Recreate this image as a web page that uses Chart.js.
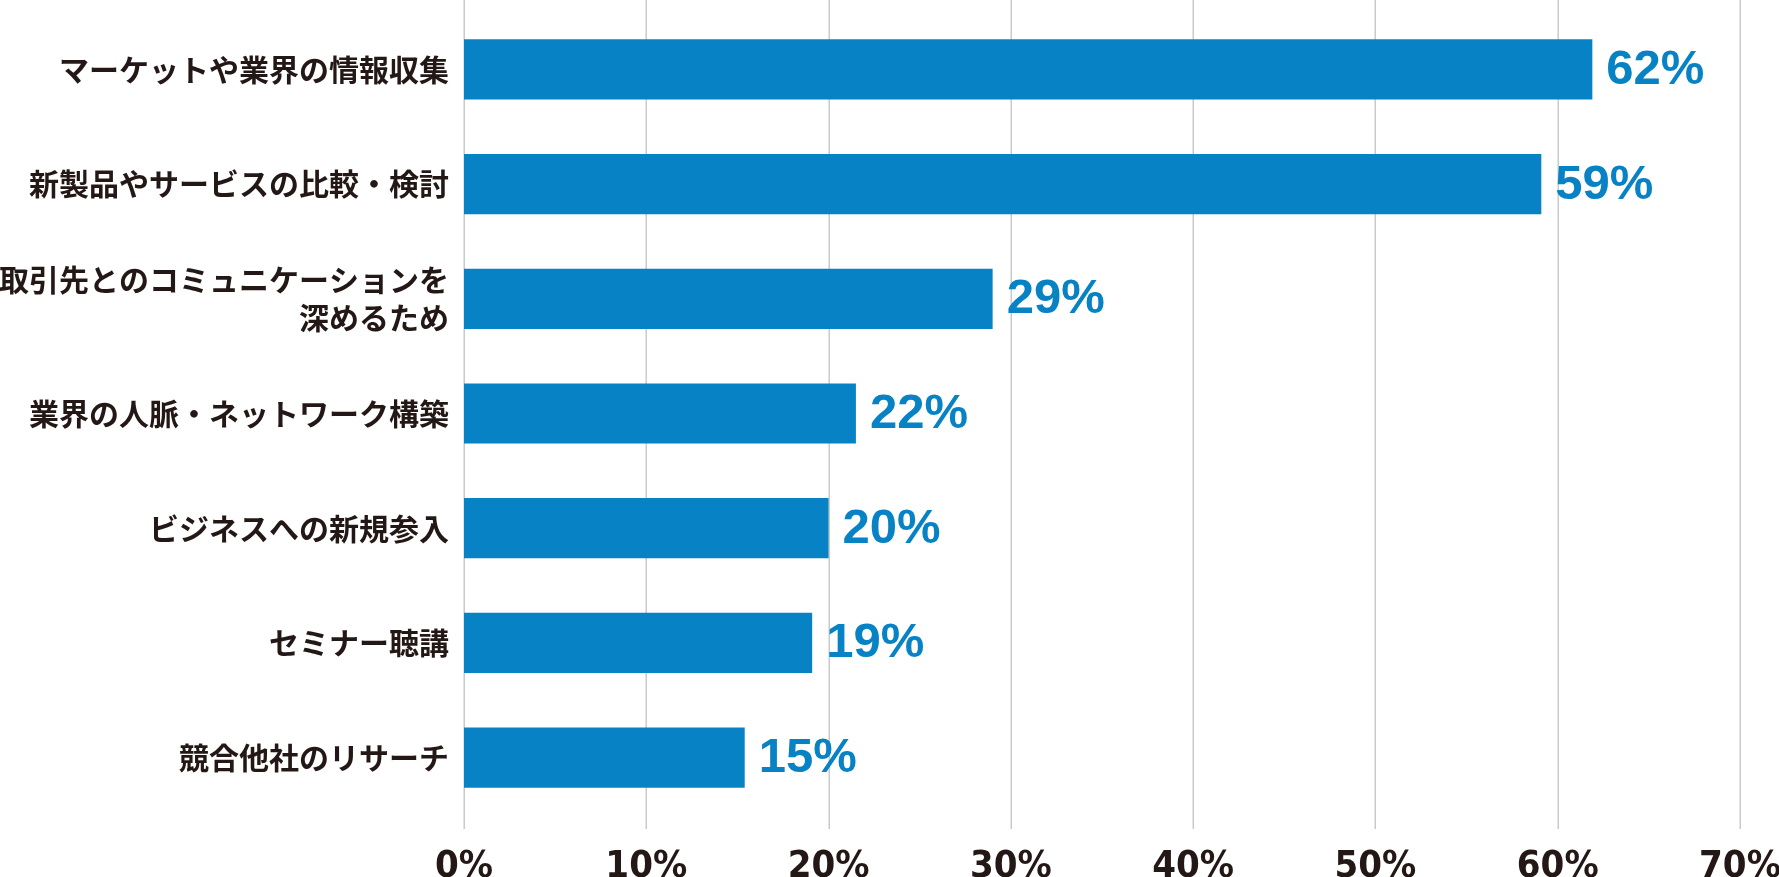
<!DOCTYPE html>
<html>
<head>
<meta charset="utf-8">
<script src="https://cdn.jsdelivr.net/npm/chart.js@4.4.0/dist/chart.umd.min.js"></script>
<style>
  html, body { margin: 0; padding: 0; background: #ffffff; }
  #wrap { width: 1779px; height: 877px; position: relative; }
</style>
</head>
<body>
<div id="wrap"><canvas id="c" width="1779" height="877"></canvas></div>
<script>
const categories = [
  'マーケットや業界の情報収集',
  '新製品やサービスの比較・検討',
  ['取引先とのコミュニケーションを', '深めるため'],
  '業界の人脈・ネットワーク構築',
  'ビジネスへの新規参入',
  'セミナー聴講',
  '競合他社のリサーチ'
];
const values = [61.9, 59.1, 29.0, 21.5, 20.0, 19.1, 15.4];
const printedPercent = [62, 59, 29, 22, 20, 19, 15];
const xTicks = [0, 10, 20, 30, 40, 50, 60, 70];

const BLUE = '#0783c5';
const DARK = '#231815';
const GRID = '#c9caca';

const gridPlugin = {
  id: 'fullGrid',
  beforeDatasetsDraw(chart) {
    const ctx = chart.ctx, xs = chart.scales.x, area = chart.chartArea;
    ctx.save();
    ctx.strokeStyle = GRID;
    ctx.lineWidth = 1.5;
    xTicks.forEach(v => {
      const px = Math.round(xs.getPixelForValue(v)) + 0.25;
      ctx.beginPath();
      ctx.moveTo(px, 0);
      ctx.lineTo(px, area.bottom + 14);
      ctx.stroke();
    });
    ctx.restore();
  }
};

const labelPlugin = {
  id: 'valueLabels',
  afterDatasetsDraw(chart) {
    const ctx = chart.ctx;
    const meta = chart.getDatasetMeta(0);
    ctx.save();
    ctx.fillStyle = BLUE;
    ctx.font = 'bold 49px "Liberation Sans", Arial, sans-serif';
    ctx.textAlign = 'left';
    ctx.textBaseline = 'middle';
    meta.data.forEach((bar, i) => {
      ctx.fillText(printedPercent[i] + '%', bar.x + 14, bar.y + 1);
    });
    ctx.restore();
  }
};

new Chart(document.getElementById('c'), {
  type: 'bar',
  data: {
    labels: categories,
    datasets: [{
      data: values,
      backgroundColor: BLUE,
      borderWidth: 0,
      barPercentage: 0.525,
      categoryPercentage: 1.0
    }]
  },
  options: {
    indexAxis: 'y',
    responsive: false,
    animation: false,
    devicePixelRatio: 1,
    layout: { padding: { top: 12, right: 39, left: 0, bottom: 0 } },
    plugins: { legend: { display: false }, tooltip: { enabled: false } },
    scales: {
      x: {
        type: 'linear',
        min: 0,
        max: 70,
        afterBuildTicks(scale) { scale.ticks = xTicks.map(v => ({ value: v })); },
        afterFit(scale) {
          scale.height = 62;
          scale.paddingLeft = 0; scale.paddingRight = 0;
          scale.paddingTop = 0; scale.paddingBottom = 0;
        },
        grid: { display: false },
        border: { display: false },
        ticks: {
          color: DARK,
          padding: 25,
          maxRotation: 0,
          autoSkip: false,
          font: { family: '"Liberation Sans Narrow", "DejaVu Sans Condensed", sans-serif', size: 38, weight: 'bold', lineHeight: 1 },
          callback: v => v + '%'
        }
      },
      y: {
        afterFit(scale) {
          scale.width = 464;
          scale.paddingLeft = 0; scale.paddingRight = 0;
          scale.paddingTop = 0; scale.paddingBottom = 0;
        },
        grid: { display: false, drawTicks: false },
        border: { display: false },
        ticks: {
          color: DARK,
          padding: 15,
          autoSkip: false,
          font: { family: '"Noto Sans CJK JP", sans-serif', size: 30, weight: 'bold', lineHeight: 1.27 }
        }
      }
    }
  },
  plugins: [gridPlugin, labelPlugin]
});
</script>
</body>
</html>
